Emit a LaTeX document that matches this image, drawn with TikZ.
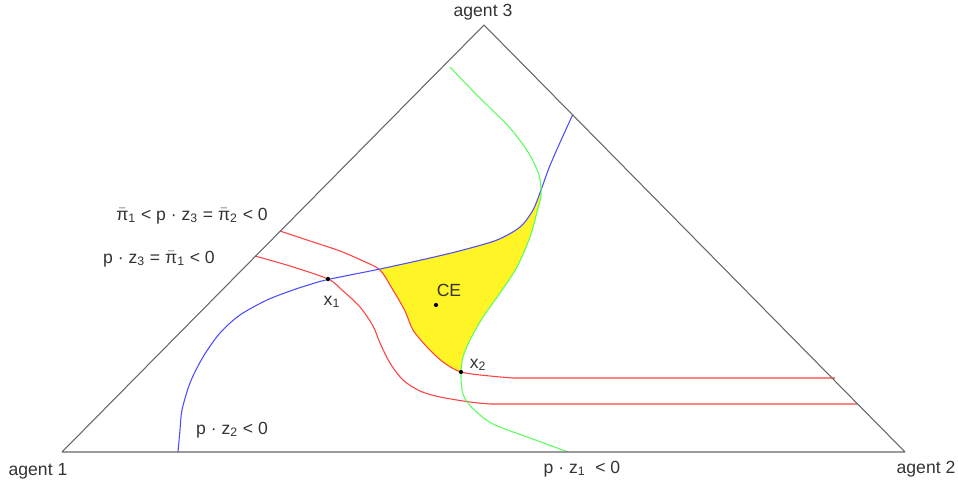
\documentclass[tikz,border=0pt]{standalone}
\usepackage{fontspec}
\setmainfont{Liberation Sans}
\usetikzlibrary{positioning}

\newcommand{\pib}{\ensuremath{\bar{\mbox{π}}}}

\begin{document}
\begin{tikzpicture}[x=0.02cm, y=-0.02cm,
        lbl/.style={font=\fontsize{10}{12}\selectfont, inner sep=1pt, text=black!80},
        side/.style={draw=black!60, line width=0.6pt, line join=round},
        curve/.style={line width=0.6pt},
        dot/.style={circle, fill=black, inner sep=0pt, minimum size=2.4pt}
    ]
    \useasboundingbox (0,0) rectangle (958,490);
    \coordinate (a1) at (62,452);
    \coordinate (a2) at (905,452);
    \coordinate (a3) at (484,25);

    % core: below blue, left of green, above upper red
    \begin{scope}
        \clip plot[smooth] coordinates {(178,452) (180,430) (182,410) (190,383) (203,357) (220,333) (240,315) (267,300) (293,290) (310,284.5) (328,279.5) (380,269) (430,258) (463,250) (497,240) (520,227) (533,210) (541,190) (549,168) (558,147) (573,114)}
            -- (958,114) -- (958,490) -- (178,490) -- cycle;
        \clip plot[smooth] coordinates {(450,67) (470,88) (490,108) (510,128) (528,152) (539,175) (541,195) (537,212) (530,237) (517,267) (500,293) (483,317) (470,340) (463,357) (461,372) (462,390) (467,402) (480,415) (495,425) (530,438) (568,452)}
            -- (568,490) -- (0,490) -- (0,67) -- cycle;
        \clip plot[smooth] coordinates {(280,231) (310,241) (340,251) (363,261) (380,270) (393,290) (405,311) (413,330) (427,347) (443,362) (461,372) (490,376) (513,378)}
            -- (835,378) -- (835,0) -- (280,0) -- cycle;
        \fill[yellow!85!white] (0,0) rectangle (958,490);
    \end{scope}

    % offer curves
    \draw[curve, red!75!white] plot[smooth] coordinates {(280,231) (310,241) (340,251) (363,261) (380,270) (393,290) (405,311) (413,330) (427,347) (443,362) (461,372) (490,376) (513,378)} -- (835,378);
    \draw[curve, red!75!white] plot[smooth] coordinates {(255,256) (290,266) (328,279) (342,290) (360,307) (373,326) (380,343) (390,363) (403,380) (420,391) (440,397) (470,402) (490,404)} -- (857,404);
    \draw[curve, blue!70!white] plot[smooth] coordinates {(178,452) (180,430) (182,410) (190,383) (203,357) (220,333) (240,315) (267,300) (293,290) (310,284.5) (328,279.5) (380,269) (430,258) (463,250) (497,240) (520,227) (533,210) (541,190) (549,168) (558,147) (573,114)};
    \draw[curve, green!65!white] plot[smooth] coordinates {(450,67) (470,88) (490,108) (510,128) (528,152) (539,175) (541,195) (537,212) (530,237) (517,267) (500,293) (483,317) (470,340) (463,357) (461,372) (462,390) (467,402) (480,415) (495,425) (530,438) (568,452)};

    % simplex
    \draw[side] (a1) -- (a2) -- (a3) -- cycle;

    \node[dot] (x1) at (328,279) {};
    \node[dot] (x2) at (461,372) {};
    \node[dot] (ce) at (436,305) {};

    \node[lbl] (top) at (483,12) {agent 3};
    \node[lbl] (left) at (38,471) {agent 1};
    \node[lbl] (right) at (926,469) {agent 2};
    \node[lbl] (z1) at (582,469) {p · z\textsubscript{1} \ < 0};
    \node[lbl] (z2) at (232,430) {p · z\textsubscript{2} < 0};
    \node[lbl] (z3a) at (159,259) {p · z\textsubscript{3} = \pib\textsubscript{1} < 0};
    \node[lbl] (z3b) at (192,216) {\pib\textsubscript{1} < p · z\textsubscript{3} = \pib\textsubscript{2} < 0};
    \node[lbl] (celbl) at (449,290) {CE};
    \node[lbl] (x1lbl) at (332,302) {x\textsubscript{1}};
    \node[lbl] (x2lbl) at (478,365) {x\textsubscript{2}};
\end{tikzpicture}
\end{document}
